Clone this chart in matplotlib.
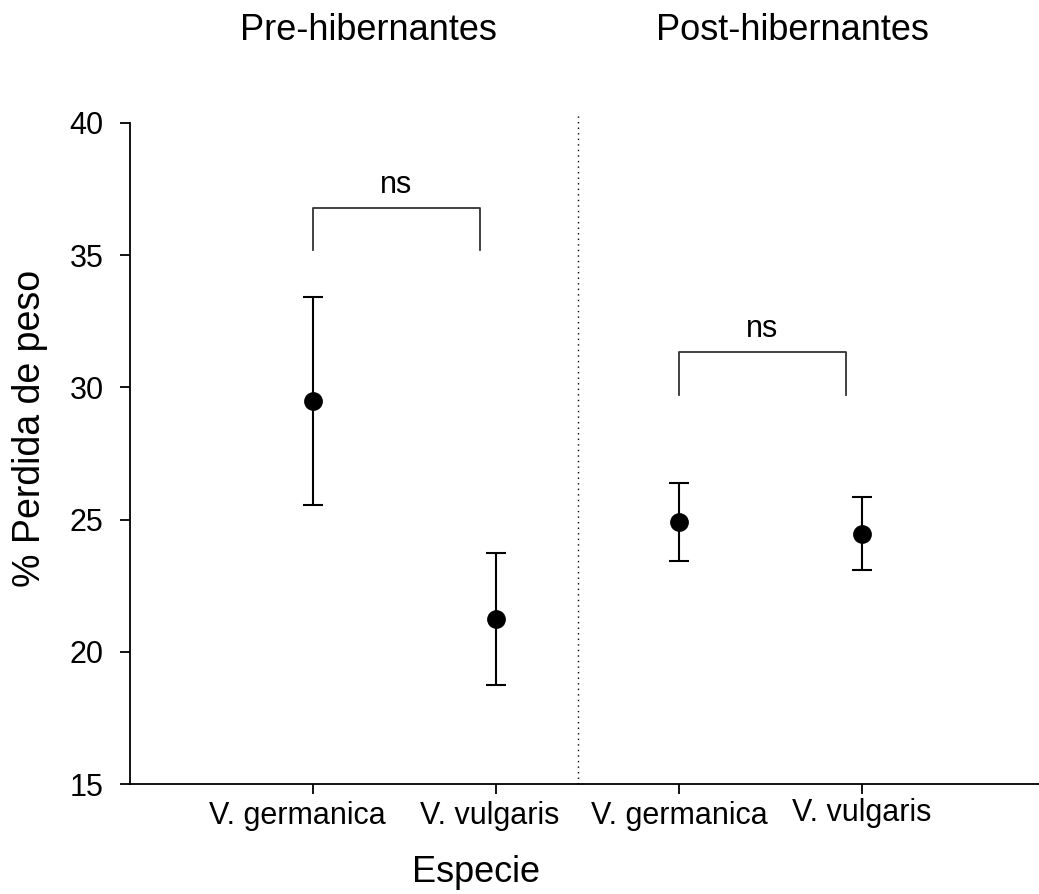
import matplotlib.pyplot as plt
import matplotlib.transforms as mtransforms
import numpy as np

plt.rcParams['font.family'] = ['Liberation Sans', 'DejaVu Sans']

species = ['V. germanica', 'V. vulgaris', 'V. germanica', 'V. vulgaris']
groups = ['Pre-hibernantes', 'Post-hibernantes']
mean_loss = [29.49, 21.24, 24.91, 24.46]
err_loss = [3.93, 2.50, 1.47, 1.38]
bracket_top = [36.79, 31.34]
bracket_leg = [35.20, 29.71]

x = np.arange(1, len(species) + 1)

fig = plt.figure(figsize=(10.39, 8.94), dpi=100)
ax = fig.add_axes([130 / 1039, 1 - 784 / 894, 915 / 1039, 661 / 894])

ax.errorbar(x, mean_loss, yerr=err_loss, fmt='o', color='black',
            markersize=12.5, elinewidth=1.5, capsize=7, capthick=1.5)

# significance brackets
for i, (top, leg) in enumerate(zip(bracket_top, bracket_leg)):
    x0 = x[2 * i]
    x1 = x[2 * i] + 0.91
    ax.plot([x0, x0, x1, x1], [leg, top, top, leg], color='#333333', lw=1.3)
    ax.text((x0 + x1) / 2, top + 0.3, 'ns', ha='center', va='bottom', fontsize=22)

# group separator
ax.plot([2.45, 2.45], [15, 40.4], color='black', lw=1, ls=(0, (1, 3)), clip_on=False)

ax.set_xlim(0, 5)
ax.set_ylim(15, 40)
ax.set_yticks([15, 20, 25, 30, 35, 40])
ax.set_xticks(x)
ax.set_xticklabels(species)
ax.tick_params(labelsize=22, length=7, width=1.3, direction='out')
ax.tick_params(axis='x', pad=5)
ax.tick_params(axis='y', pad=12)
ax.spines['top'].set_visible(False)
ax.spines['right'].set_visible(False)
ax.spines['left'].set_linewidth(1.3)
ax.spines['bottom'].set_linewidth(1.3)

# small nudges of the tick labels as in the original
nudges = [(-16, 0), (-6, 0), (0, 0), (0, 3)]
for lab, (dx, dy) in zip(ax.get_xticklabels(), nudges):
    lab.set_transform(lab.get_transform() +
                      mtransforms.ScaledTranslation(dx / 100, dy / 100, fig.dpi_scale_trans))

fig.text(368 / 1039, 1 - 30 / 894, groups[0], ha='center', va='center', fontsize=26)
fig.text(792 / 1039, 1 - 30 / 894, groups[1], ha='center', va='center', fontsize=26)
fig.text(476 / 1039, 1 - 872 / 894, 'Especie', ha='center', va='center', fontsize=26)
fig.text(30 / 1039, 1 - 428 / 894, '% Perdida de peso', ha='center', va='center',
         rotation=90, fontsize=27)

fig.savefig('out.png', dpi=100)
